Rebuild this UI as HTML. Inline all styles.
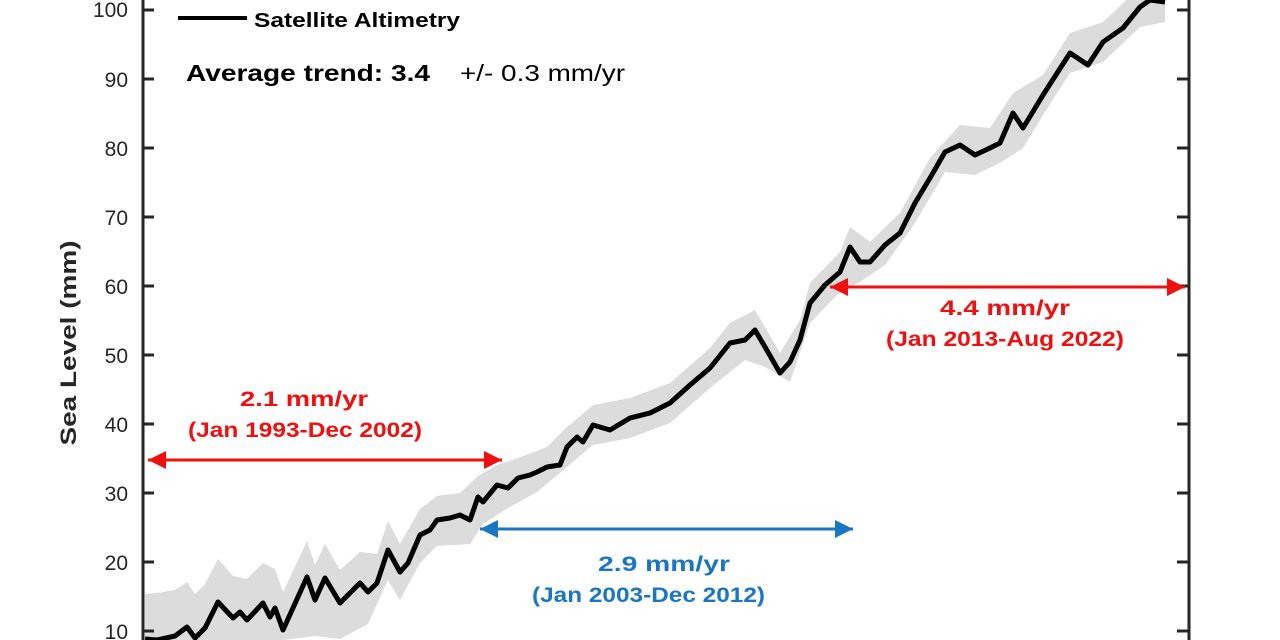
<!DOCTYPE html>
<html><head><meta charset="utf-8"><style>
html,body{margin:0;padding:0;background:#fff;width:1280px;height:640px;overflow:hidden;}
svg{display:block;font-family:"Liberation Sans",Arial,sans-serif;}
</style></head><body>
<svg width="1280" height="640" viewBox="0 0 1280 640" xmlns="http://www.w3.org/2000/svg">
<defs>
<marker id="ar" viewBox="0 0 10 10" refX="10" refY="5" markerWidth="6" markerHeight="6" orient="auto-start-reverse"><path d="M0,0L10,5L0,10z" fill="#f00f0f"/></marker>
<marker id="ab" viewBox="0 0 10 10" refX="10" refY="5" markerWidth="6" markerHeight="6" orient="auto-start-reverse"><path d="M0,0L10,5L0,10z" fill="#1a75c2"/></marker>
</defs>
<polygon fill="#dcdcdc" points="145,594 157,593 175,590 187,582 195,594 205,584 218,559 233,576 247,579 263,563 275,569 283,592 307,541 315,565 325,544 340,570 360,552 377,554 388,521 400,544 420,509 437,496 460,493 478,476 497,465 518,458 547,447 567,427 593,405 630,398 670,383 710,348 730,323 755,310 780,353 800,320 810,283 840,252 850,227 870,242 900,213 930,158 960,125 990,128 1013,93 1043,75 1070,33 1103,22 1140,-13 1165,-18 1165,22 1140,27 1103,62 1070,73 1043,115 1023,148 1000,163 975,175 945,172 915,223 885,265 860,282 840,292 810,323 790,382 765,367 745,360 710,388 670,423 630,438 593,445 567,467 537,492 508,508 483,524 470,544 437,546 420,563 400,600 388,580 368,624 340,639 315,636 283,640 263,640 240,640 145,640"/>
<polyline fill="none" stroke="#000" stroke-width="5" stroke-linejoin="round" points="145,639 157,640 175,636 187,627 195,638 205,628 218,602 233,618 240,612 247,620 263,603 270,617 275,608 283,630 307,577 315,600 325,578 340,603 360,583 368,592 377,583 388,550 400,572 408,563 420,535 430,530 437,520 450,518 460,515 470,520 478,497 483,502 497,485 508,488 518,478 530,475 537,472 547,467 560,465 567,447 577,437 583,442 593,425 610,430 630,418 650,413 670,403 690,385 710,368 730,343 745,340 755,330 765,347 780,373 790,362 800,340 810,303 825,285 840,272 850,247 860,262 870,262 885,245 900,233 915,203 930,178 945,152 960,145 975,155 990,148 1000,143 1013,113 1023,128 1043,95 1070,53 1088,65 1103,42 1123,28 1140,7 1150,0 1165,2"/>
<line x1="143" y1="0" x2="143" y2="640" stroke="#262626" stroke-width="3"/>
<line x1="1189" y1="0" x2="1189" y2="640" stroke="#262626" stroke-width="3"/>
<g stroke="#262626" stroke-width="3">
<line x1="143" y1="10" x2="154" y2="10"/><line x1="143" y1="79" x2="154" y2="79"/><line x1="143" y1="148" x2="154" y2="148"/><line x1="143" y1="217" x2="154" y2="217"/><line x1="143" y1="286" x2="154" y2="286"/><line x1="143" y1="355" x2="154" y2="355"/><line x1="143" y1="424" x2="154" y2="424"/><line x1="143" y1="493" x2="154" y2="493"/><line x1="143" y1="562" x2="154" y2="562"/><line x1="143" y1="631" x2="154" y2="631"/>
<line x1="1177" y1="10" x2="1189" y2="10"/><line x1="1177" y1="79" x2="1189" y2="79"/><line x1="1177" y1="148" x2="1189" y2="148"/><line x1="1177" y1="217" x2="1189" y2="217"/><line x1="1177" y1="286" x2="1189" y2="286"/><line x1="1177" y1="355" x2="1189" y2="355"/><line x1="1177" y1="424" x2="1189" y2="424"/><line x1="1177" y1="493" x2="1189" y2="493"/><line x1="1177" y1="562" x2="1189" y2="562"/><line x1="1177" y1="631" x2="1189" y2="631"/>
</g>
<g font-size="21" fill="#262626" text-anchor="end">
<text x="128" y="17">100</text><text x="128" y="87">90</text><text x="128" y="156">80</text><text x="128" y="225">70</text><text x="128" y="294">60</text><text x="128" y="363">50</text><text x="128" y="432">40</text><text x="128" y="501">30</text><text x="128" y="570">20</text><text x="128" y="639">10</text>
</g>
<text transform="translate(76,343) rotate(-90)" text-anchor="middle" font-size="22" font-weight="bold" fill="#262626" textLength="205" lengthAdjust="spacingAndGlyphs">Sea Level (mm)</text>
<line x1="178" y1="18" x2="247" y2="18" stroke="#000" stroke-width="4"/>
<text x="254" y="27" font-size="20" font-weight="bold" textLength="206" lengthAdjust="spacingAndGlyphs">Satellite Altimetry</text>
<text x="186" y="81" font-size="23" font-weight="bold" textLength="244" lengthAdjust="spacingAndGlyphs">Average trend: 3.4</text>
<text x="460" y="81" font-size="23" textLength="165" lengthAdjust="spacingAndGlyphs">+/- 0.3 mm/yr</text>
<line x1="148" y1="460" x2="502" y2="460" stroke="#f00f0f" stroke-width="3" marker-start="url(#ar)" marker-end="url(#ar)"/>
<line x1="480" y1="529" x2="853" y2="529" stroke="#1a75c2" stroke-width="3" marker-start="url(#ab)" marker-end="url(#ab)"/>
<line x1="830" y1="287" x2="1185" y2="287" stroke="#f00f0f" stroke-width="3" marker-start="url(#ar)" marker-end="url(#ar)"/>
<g font-size="21" font-weight="bold" lengthAdjust="spacingAndGlyphs">
<text x="240" y="406" fill="#f00f0f" textLength="128" lengthAdjust="spacingAndGlyphs">2.1 mm/yr</text>
<text x="188" y="437" fill="#f00f0f" textLength="234" lengthAdjust="spacingAndGlyphs">(Jan 1993-Dec 2002)</text>
<text x="598" y="571" fill="#1a75c2" textLength="132" lengthAdjust="spacingAndGlyphs">2.9 mm/yr</text>
<text x="532" y="602" fill="#1a75c2" textLength="233" lengthAdjust="spacingAndGlyphs">(Jan 2003-Dec 2012)</text>
<text x="940" y="315" fill="#f00f0f" textLength="130" lengthAdjust="spacingAndGlyphs">4.4 mm/yr</text>
<text x="886" y="346" fill="#f00f0f" textLength="238" lengthAdjust="spacingAndGlyphs">(Jan 2013-Aug 2022)</text>
</g>
</svg>
</body></html>
